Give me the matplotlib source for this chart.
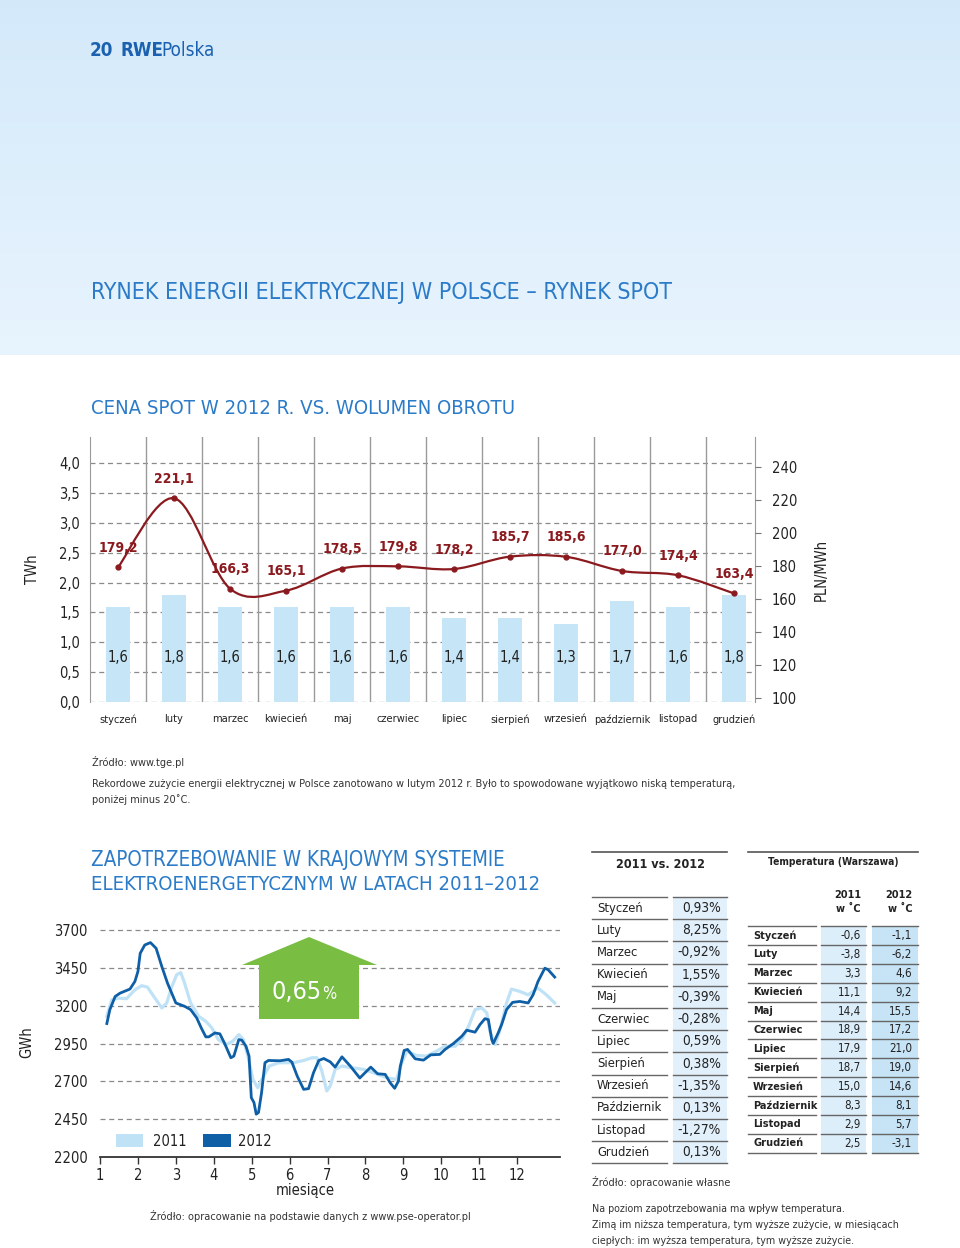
import numpy as np
import matplotlib
matplotlib.use("Agg")
import matplotlib.pyplot as plt
from matplotlib.patches import Rectangle, Polygon, PathPatch
from matplotlib.path import Path
from matplotlib import font_manager


# ---- fonts: look for a condensed sans, else Roboto -----------------------
def pick_font():
    for f in font_manager.fontManager.ttflist:
        n = f.name
        if "Mono" in n or "Serif" in n or f.style != "normal":
            continue
        if "Narrow" in n or "Condensed" in n or "condensed" in str(f.stretch):
            return n, f.stretch
    return "Roboto", "normal"


FONT, STRETCH = pick_font()
plt.rcParams["font.family"] = [FONT, "DejaVu Sans"]
plt.rcParams["font.stretch"] = STRETCH

# ---- colours -------------------------------------------------------------
BLUE_TITLE = "#2b7bc8"
BLUE_HEAD = "#1a62b0"
BAR_BLUE = "#c6e6f7"
DARK_RED = "#8b1a1f"
GRID = "#8a8a8a"
TXT = "#222222"
NOTE = "#333333"
L2011 = "#bfe2f6"
L2012 = "#0f5fa6"
GREEN = "#79bd43"

# ---- data: spot price vs volume -----------------------------------------
MONTHS = ["styczeń", "luty", "marzec", "kwiecień", "maj", "czerwiec", "lipiec",
          "sierpień", "wrzesień", "październik", "listopad", "grudzień"]
VOLUME = [1.6, 1.8, 1.6, 1.6, 1.6, 1.6, 1.4, 1.4, 1.3, 1.7, 1.6, 1.8]
PRICE = [179.2, 221.1, 166.3, 165.1, 178.5, 179.8, 178.2, 185.7, 185.6, 177.0, 174.4, 163.4]
VOL_TICKS = [0.0, 0.5, 1.0, 1.5, 2.0, 2.5, 3.0, 3.5, 4.0]
PRICE_TICKS = [100, 120, 140, 160, 180, 200, 220, 240]

# ---- data: daily demand (month position, GWh) -----------------------------
M2012 = [1.18, 1.26, 1.40, 1.53, 1.79, 1.92, 2.0, 2.06, 2.18, 2.33, 2.48, 2.63, 2.78, 3.0,
         3.23, 3.39, 3.55, 3.67, 3.79, 3.87, 4.03, 4.16, 4.28, 4.45, 4.53, 4.66, 4.74, 4.85,
         4.93, 4.99, 5.06, 5.12, 5.18, 5.26, 5.35, 5.44, 5.75, 5.97, 6.06, 6.2, 6.37, 6.5,
         6.63, 6.77, 6.9, 7.07, 7.2, 7.38, 7.6, 7.85, 7.99, 8.14, 8.32, 8.52, 8.65, 8.77,
         8.87, 8.92, 9.02, 9.11, 9.31, 9.53, 9.72, 9.96, 10.1, 10.32, 10.54, 10.67, 10.89,
         11.02, 11.15, 11.24, 11.33, 11.37, 11.5, 11.59, 11.72, 11.88, 12.07, 12.29, 12.42,
         12.55, 12.64, 12.73, 12.82, 12.99]
D2012 = [3082, 3174, 3261, 3283, 3310, 3360, 3426, 3546, 3601, 3617, 3579, 3459, 3349, 3218,
         3196, 3174, 3119, 3053, 2994, 2994, 3020, 3014, 2954, 2856, 2867, 2976, 2972, 2932,
         2867, 2592, 2560, 2483, 2494, 2625, 2823, 2838, 2836, 2845, 2827, 2735, 2647, 2652,
         2757, 2838, 2851, 2829, 2794, 2862, 2801, 2722, 2757, 2794, 2750, 2746, 2691, 2654,
         2702, 2801, 2904, 2911, 2849, 2840, 2875, 2878, 2911, 2950, 2998, 3038, 3025,
         3075, 3114, 3108, 2976, 2950, 3020, 3075, 3174, 3222, 3228, 3218, 3272,
         3360, 3404, 3448, 3437, 3389]
M2011 = [1.18, 1.31, 1.48, 1.70, 1.92, 2.1, 2.25, 2.48, 2.63, 2.76, 2.88, 3.02, 3.13, 3.23,
         3.39, 3.6, 3.79, 3.95, 4.12, 4.33, 4.5, 4.66, 4.78, 4.91, 5.03, 5.16, 5.27, 5.46,
         5.71, 6.1, 6.37, 6.59, 6.72, 6.85, 6.98, 7.07, 7.2, 7.38, 7.64, 7.95, 8.25, 8.56,
         8.82, 8.96, 9.09, 9.35, 9.61, 9.88, 10.1, 10.37, 10.54, 10.72, 10.89, 11.07, 11.2,
         11.28, 11.42, 11.55, 11.72, 11.85, 12.07, 12.29, 12.55, 12.77, 12.99]
D2011 = [3130, 3239, 3250, 3246, 3305, 3332, 3323, 3239, 3185, 3218, 3316, 3404, 3419, 3349,
         3218, 3130, 3097, 3053, 2976, 2943, 2965, 3009, 2976, 2856, 2713, 2658, 2713, 2801,
         2823, 2823, 2838, 2856, 2856, 2768, 2636, 2669, 2779, 2801, 2790, 2779, 2753, 2724,
         2713, 2823, 2900, 2871, 2867, 2900, 2932, 2932, 2976, 3064, 3174, 3185, 3152,
         3031, 2943, 3042, 3218, 3310, 3294, 3272, 3316, 3272, 3218]
DEMAND_TICKS = [2200, 2450, 2700, 2950, 3200, 3450, 3700]
DEMAND_CHANGE = "0,65"

# ---- data: tables --------------------------------------------------------
ROW_NAMES = ["Styczeń", "Luty", "Marzec", "Kwiecień", "Maj", "Czerwiec", "Lipiec",
             "Sierpień", "Wrzesień", "Październik", "Listopad", "Grudzień"]
CHANGE = [0.93, 8.25, -0.92, 1.55, -0.39, -0.28, 0.59, 0.38, -1.35, 0.13, -1.27, 0.13]
TEMP_2011 = [-0.6, -3.8, 3.3, 11.1, 14.4, 18.9, 17.9, 18.7, 15.0, 8.3, 2.9, 2.5]
TEMP_2012 = [-1.1, -6.2, 4.6, 9.2, 15.5, 17.2, 21.0, 19.0, 14.6, 8.1, 5.7, -3.1]


def pl(v, nd=1):
    return f"{v:.{nd}f}".replace(".", ",")


def smooth_path(xs, ys):
    # Catmull-Rom through the points, drawn as cubic Bezier segments
    pts = np.column_stack([xs, ys]).astype(float)
    verts, codes = [pts[0]], [Path.MOVETO]
    for i in range(len(pts) - 1):
        p0 = pts[i - 1] if i > 0 else pts[i]
        p1, p2 = pts[i], pts[i + 1]
        p3 = pts[i + 2] if i + 2 < len(pts) else pts[i + 1]
        verts += [p1 + (p2 - p0) / 6, p2 - (p3 - p1) / 6, p2]
        codes += [Path.CURVE4] * 3
    return Path(verts, codes)


# ---- page ----------------------------------------------------------------
W, H = 960, 1248
fig = plt.figure(figsize=(9.6, 12.48), dpi=100)
page = fig.add_axes([0, 0, 1, 1])
page.set_xlim(0, W)
page.set_ylim(H, 0)
page.axis("off")


def box(l, t, r, b):
    return [l / W, 1 - b / H, (r - l) / W, (b - t) / H]


# header band gradient
grad = np.linspace(0, 1, 256)[:, None]
c_top = np.array([0.83, 0.915, 0.98])
c_bot = np.array([0.91, 0.957, 0.995])
img = c_top[None, None, :] * (1 - grad[..., None]) + c_bot[None, None, :] * grad[..., None]
img = np.repeat(img, 2, axis=1)
page.imshow(img, extent=(0, W, 355, 0), aspect="auto", zorder=0)

page.text(90, 50, "20", color=BLUE_HEAD, fontsize=13.5, fontweight="bold", va="center")
page.text(121, 50, "RWE", color=BLUE_HEAD, fontsize=13.5, fontweight="bold", va="center")
page.text(161, 50, "Polska", color=BLUE_HEAD, fontsize=13.5, va="center")

page.text(91, 293, "RYNEK ENERGII ELEKTRYCZNEJ W POLSCE – RYNEK SPOT", color=BLUE_TITLE,
          fontsize=16.6, fontweight="light", va="center")
page.text(91, 408, "CENA SPOT W 2012 R. VS. WOLUMEN OBROTU", color=BLUE_TITLE,
          fontsize=14.6, fontweight="light", va="center")

# ---- chart 1: spot price vs volume ---------------------------------------
ax = fig.add_axes(box(90, 437, 755, 702))
ax.set_facecolor("none")
x = np.arange(len(MONTHS))
ax.bar(x, VOLUME, width=0.43, color=BAR_BLUE, zorder=2)
for v in VOL_TICKS:
    ax.axhline(v, color=GRID, lw=0.9, ls=(0, (4, 3)), zorder=1)
for b in np.arange(0.5, 11, 1):
    ax.axvline(b, color="#9a9a9a", lw=1.0, zorder=1)
for i, v in enumerate(VOLUME):
    ax.text(i, 0.75, pl(v), ha="center", va="center", fontsize=10.5, color=TXT, zorder=4)
ax.set_xlim(-0.5, 11.375)
ax.set_ylim(0, 4.44)
ax.set_yticks(VOL_TICKS)
ax.set_yticklabels([pl(v) for v in VOL_TICKS])
ax.set_xticks(x)
ax.set_xticklabels(MONTHS)
ax.tick_params(axis="y", length=0, pad=7, labelsize=10.5, labelcolor=TXT)
ax.tick_params(axis="x", length=0, pad=9, labelsize=7.9, labelcolor=TXT)
for s in ["top", "bottom"]:
    ax.spines[s].set_visible(False)
for s in ["left", "right"]:
    ax.spines[s].set_color("#9a9a9a")
ax.set_ylabel("TWh", fontsize=10.5, color=TXT, labelpad=14)

ax2 = ax.twinx()
ax2.set_ylim(97.6, 258.2)
ax2.add_patch(PathPatch(smooth_path(x, PRICE), fc="none", ec=DARK_RED, lw=1.6, zorder=5))
ax2.plot(x, PRICE, "o", color=DARK_RED, ms=3.5, zorder=6)
for i, v in enumerate(PRICE):
    ax2.annotate(pl(v), (i, v), xytext=(0, 9), textcoords="offset points", ha="center",
                 va="bottom", fontsize=10, fontweight="bold", color=DARK_RED)
ax2.set_yticks(PRICE_TICKS)
ax2.tick_params(axis="y", length=4, color="#777", pad=8, labelsize=10.5, labelcolor=TXT)
for s in ax2.spines.values():
    s.set_visible(False)
ax2.set_ylabel("PLN/MWh", fontsize=10.5, color=TXT, labelpad=12)

page.text(92, 762, "Źródło: www.tge.pl", fontsize=7.8, color=NOTE, va="center")
page.text(92, 784, "Rekordowe zużycie energii elektrycznej w Polsce zanotowano w lutym 2012 r. "
          "Było to spowodowane wyjątkowo niską temperaturą,", fontsize=7.8, color=NOTE,
          va="center")
page.text(92, 800, "poniżej minus 20˚C.", fontsize=7.8, color=NOTE, va="center")

# ---- chart 2: demand -----------------------------------------------------
page.text(91, 860, "ZAPOTRZEBOWANIE W KRAJOWYM SYSTEMIE", color=BLUE_TITLE, fontsize=14.8,
          fontweight="light", va="center")
page.text(91, 884, "ELEKTROENERGETYCZNYM W LATACH 2011–2012", color=BLUE_TITLE, fontsize=14.6,
          fontweight="light", va="center")

bx = fig.add_axes(box(100, 927, 560, 1157))
bx.set_facecolor("none")
bx.set_xlim(1, 13.13)
bx.set_ylim(2200, 3720)
for v in DEMAND_TICKS[1:]:
    bx.axhline(v, color=GRID, lw=0.9, ls=(0, (4, 3)), zorder=1)
bx.plot(M2011, D2011, color=L2011, lw=2.3, solid_joinstyle="round", zorder=2)
bx.plot(M2012, D2012, color=L2012, lw=2.0, solid_joinstyle="round", zorder=3)
bx.set_xticks(range(1, 13))
bx.set_yticks(DEMAND_TICKS)
bx.tick_params(axis="x", length=5, width=1, color="#333", pad=3, labelsize=10.5, labelcolor=TXT)
bx.tick_params(axis="y", length=0, pad=9, labelsize=10.5, labelcolor=TXT)
for s in ["top", "left", "right"]:
    bx.spines[s].set_visible(False)
bx.spines["bottom"].set_color("#333")
bx.spines["bottom"].set_linewidth(1.3)
bx.set_ylabel("GWh", fontsize=10.5, color=TXT, labelpad=14)

arrow = Polygon([(242, 965), (309, 937), (377, 965), (359, 965), (359, 1019), (259, 1019),
                 (259, 965)], closed=True, fc=GREEN, ec="none", transform=page.transData,
                zorder=4)
bx.add_patch(arrow)
bx.text(322, 999, DEMAND_CHANGE, transform=page.transData, ha="right", va="baseline",
        fontsize=18, color="white", zorder=5)
bx.text(322, 999, "%", transform=page.transData, ha="left", va="baseline",
        fontsize=12, color="white", zorder=5)

page.add_patch(Rectangle((116, 1134), 27, 13, fc=L2011, ec="none"))
page.text(153, 1141, "2011", fontsize=10.5, color=TXT, va="center")
page.add_patch(Rectangle((203, 1134), 28, 13, fc=L2012, ec="none"))
page.text(238, 1141, "2012", fontsize=10.5, color=TXT, va="center")
page.text(305, 1190, "miesiące", fontsize=10.5, color=TXT, ha="center", va="center")
page.text(150, 1216, "Źródło: opracowanie na podstawie danych z www.pse-operator.pl",
          fontsize=7.8, color=NOTE, va="center")

# ---- table 1: 2011 vs 2012 ----------------------------------------------
page.plot([592, 727], [852, 852], color="#555", lw=1.2)
page.text(660, 864, "2011 vs. 2012", fontsize=9, fontweight="bold", color=TXT,
          ha="center", va="center")
top, rh = 897, 22.2
for i, (name, v) in enumerate(zip(ROW_NAMES, CHANGE)):
    y0 = top + i * rh
    page.add_patch(Rectangle((673, y0), 54, rh, fc="#e2f0fb", ec="none"))
    page.text(597, y0 + rh / 2, name, fontsize=9.3, fontweight="medium", color=TXT,
              va="center")
    page.text(721, y0 + rh / 2, pl(v, 2) + "%", fontsize=9.8, color=TXT, va="center",
              ha="right")
for i in range(len(ROW_NAMES) + 1):
    y = top + i * rh
    page.plot([592, 667], [y, y], color="#666", lw=1.0)
    page.plot([673, 727], [y, y], color="#666", lw=1.0)
page.text(592, 1182, "Źródło: opracowanie własne", fontsize=7.8, color=NOTE, va="center")

# ---- table 2: temperature -----------------------------------------------
page.plot([748, 918], [852, 852], color="#555", lw=1.2)
page.text(833, 862, "Temperatura (Warszawa)", fontsize=7.4, fontweight="bold", color=TXT,
          ha="center", va="center")
page.text(861, 895, "2011", fontsize=7.8, fontweight="bold", color=TXT, ha="right", va="center")
page.text(861, 909, "w ˚C", fontsize=7.8, fontweight="bold", color=TXT, ha="right", va="center")
page.text(912, 895, "2012", fontsize=7.8, fontweight="bold", color=TXT, ha="right", va="center")
page.text(912, 909, "w ˚C", fontsize=7.8, fontweight="bold", color=TXT, ha="right", va="center")
top, rh = 926, 18.9
for i, (name, a, b) in enumerate(zip(ROW_NAMES, TEMP_2011, TEMP_2012)):
    y0 = top + i * rh
    page.add_patch(Rectangle((821, y0), 45, rh, fc="#dceefa", ec="none"))
    page.add_patch(Rectangle((872, y0), 46, rh, fc="#c7e3f6", ec="none"))
    page.text(753, y0 + rh / 2, name, fontsize=7.8, fontweight="bold", color=TXT, va="center")
    page.text(861, y0 + rh / 2, pl(a), fontsize=8.3, color=TXT, va="center", ha="right")
    page.text(912, y0 + rh / 2, pl(b), fontsize=8.3, color=TXT, va="center", ha="right")
for i in range(len(ROW_NAMES) + 1):
    y = top + i * rh
    page.plot([748, 816], [y, y], color="#666", lw=1.0)
    page.plot([821, 866], [y, y], color="#666", lw=1.0)
    page.plot([872, 918], [y, y], color="#666", lw=1.0)

page.text(592, 1209, "Na poziom zapotrzebowania ma wpływ temperatura.", fontsize=7.7,
          color=NOTE, va="center")
page.text(592, 1225, "Zimą im niższa temperatura, tym wyższe zużycie, w miesiącach",
          fontsize=7.7, color=NOTE, va="center")
page.text(592, 1241, "ciepłych: im wyższa temperatura, tym wyższe zużycie.", fontsize=7.7,
          color=NOTE, va="center")

fig.savefig("out.png", dpi=100)
